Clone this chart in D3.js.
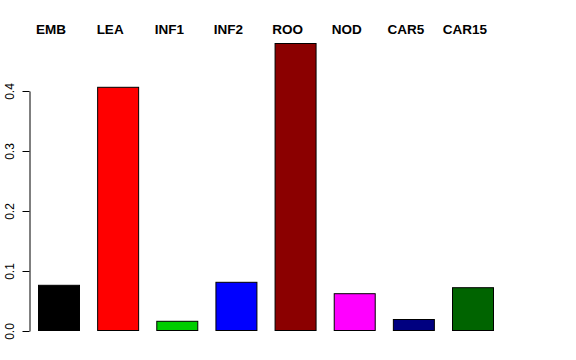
<!DOCTYPE html>
<html>
<head>
<meta charset="utf-8">
<script src="https://d3js.org/d3.v7.min.js"></script>
<style>
  body { margin: 0; background: #fff; }
  svg { display: block; }
</style>
</head>
<body>
<svg width="576" height="360" font-family="'Liberation Sans', Arial, sans-serif"></svg>
<script>
var categories = ["EMB", "LEA", "INF1", "INF2", "ROO", "NOD", "CAR5", "CAR15"];
var values = [0.077, 0.407, 0.017, 0.082, 0.480, 0.063, 0.020, 0.073];
var colors = ["#000000", "#ff0000", "#00cd00", "#0000ff", "#8b0000", "#ff00ff", "#000080", "#006400"];
var yTicks = [0, 0.1, 0.2, 0.3, 0.4];

var svg = d3.select("svg");

var x = d3.scaleBand()
    .domain(categories)
    .range([38, 494])
    .paddingInner(0.29)
    .paddingOuter(0);

var y = d3.scaleLinear().domain([0, 0.4]).range([331, 91]);

// bars
svg.append("g")
  .selectAll("rect")
  .data(categories)
  .enter().append("rect")
    .attr("x", function(d) { return x(d) + 0.5; })
    .attr("y", function(d, i) { return y(values[i]) + 0.5; })
    .attr("width", x.bandwidth() - 1)
    .attr("height", function(d, i) { return y(0) - y(values[i]) - 1; })
    .attr("fill", function(d, i) { return colors[i]; })
    .attr("stroke", "#000")
    .attr("stroke-width", 1);

// category labels on top
svg.append("g")
  .selectAll("text")
  .data(categories)
  .enter().append("text")
    .attr("x", function(d) { return x(d) + x.bandwidth() / 2 - 8; })
    .attr("y", 34)
    .attr("text-anchor", "middle")
    .attr("font-size", 13.5)
    .attr("font-weight", "bold")
    .text(function(d) { return d; });

// y axis
var yAxis = svg.append("g")
    .attr("transform", "translate(29.5,0)")
    .call(d3.axisLeft(y).tickValues(yTicks).tickSize(7).tickSizeOuter(0).tickFormat(d3.format(".1f")));

yAxis.select(".domain").attr("stroke", "#000");
yAxis.selectAll(".tick line").attr("stroke", "#000");
yAxis.selectAll(".tick text")
    .attr("transform", "rotate(-90)")
    .attr("x", 0)
    .attr("y", -16)
    .attr("dy", 0)
    .attr("text-anchor", "middle")
    .attr("font-size", 12)
    .attr("font-family", "'Liberation Sans', Arial, sans-serif")
    .attr("fill", "#000");
</script>
</body>
</html>
